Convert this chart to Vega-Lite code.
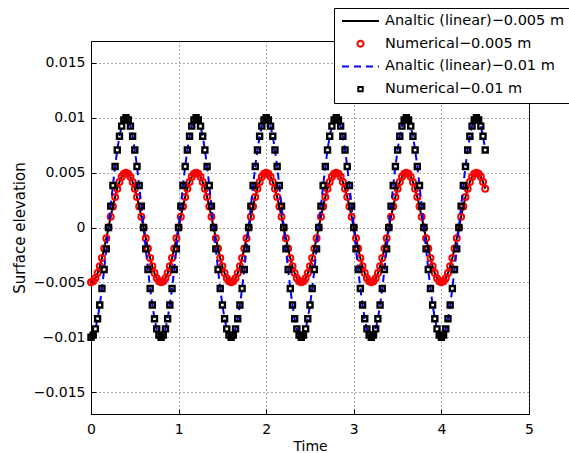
{
"$schema": "https://vega.github.io/schema/vega-lite/v6.json",
"width": 438, "height": 373,
"autosize": {"type": "none"},
"padding": {"left": 91, "top": 41, "right": 40, "bottom": 39},
"background": "white",
"config": {
  "font": "DejaVu Sans",
  "view": {"stroke": "black", "strokeWidth": 1},
  "axis": {"labelFont": "DejaVu Sans", "labelFontSize": 14, "labelColor": "black", "labelFlush": false, "titleFont": "DejaVu Sans", "titleFontSize": 14, "titleFontWeight": "normal", "titleColor": "black", "domainColor": "black", "tickColor": "black", "gridColor": "#555555", "gridDash": [1, 3], "gridOpacity": 1, "gridWidth": 1}
},
"data": {"values": [
{"t":0,"a":-0.005,"b":-0.01},{"t":0.025,"a":-0.004904,"b":-0.009808},{"t":0.05,"a":-0.004619,"b":-0.009239},{"t":0.075,"a":-0.004157,"b":-0.008315},{"t":0.1,"a":-0.003536,"b":-0.007071},{"t":0.125,"a":-0.002778,"b":-0.005556},{"t":0.15,"a":-0.001913,"b":-0.003827},{"t":0.175,"a":-0.000975,"b":-0.001951},{"t":0.2,"a":0,"b":0},{"t":0.225,"a":0.000975,"b":0.001951},{"t":0.25,"a":0.001913,"b":0.003827},{"t":0.275,"a":0.002778,"b":0.005556},{"t":0.3,"a":0.003536,"b":0.007071},{"t":0.325,"a":0.004157,"b":0.008315},{"t":0.35,"a":0.004619,"b":0.009239},{"t":0.375,"a":0.004904,"b":0.009808},{"t":0.4,"a":0.005,"b":0.01},{"t":0.425,"a":0.004904,"b":0.009808},{"t":0.45,"a":0.004619,"b":0.009239},{"t":0.475,"a":0.004157,"b":0.008315},{"t":0.5,"a":0.003536,"b":0.007071},{"t":0.525,"a":0.002778,"b":0.005556},{"t":0.55,"a":0.001913,"b":0.003827},{"t":0.575,"a":0.000975,"b":0.001951},{"t":0.6,"a":0,"b":0},{"t":0.625,"a":-0.000975,"b":-0.001951},{"t":0.65,"a":-0.001913,"b":-0.003827},{"t":0.675,"a":-0.002778,"b":-0.005556},{"t":0.7,"a":-0.003536,"b":-0.007071},{"t":0.725,"a":-0.004157,"b":-0.008315},{"t":0.75,"a":-0.004619,"b":-0.009239},{"t":0.775,"a":-0.004904,"b":-0.009808},
{"t":0.8,"a":-0.005,"b":-0.01},{"t":0.825,"a":-0.004904,"b":-0.009808},{"t":0.85,"a":-0.004619,"b":-0.009239},{"t":0.875,"a":-0.004157,"b":-0.008315},{"t":0.9,"a":-0.003536,"b":-0.007071},{"t":0.925,"a":-0.002778,"b":-0.005556},{"t":0.95,"a":-0.001913,"b":-0.003827},{"t":0.975,"a":-0.000975,"b":-0.001951},{"t":1,"a":0,"b":0},{"t":1.025,"a":0.000975,"b":0.001951},{"t":1.05,"a":0.001913,"b":0.003827},{"t":1.075,"a":0.002778,"b":0.005556},{"t":1.1,"a":0.003536,"b":0.007071},{"t":1.125,"a":0.004157,"b":0.008315},{"t":1.15,"a":0.004619,"b":0.009239},{"t":1.175,"a":0.004904,"b":0.009808},{"t":1.2,"a":0.005,"b":0.01},{"t":1.225,"a":0.004904,"b":0.009808},{"t":1.25,"a":0.004619,"b":0.009239},{"t":1.275,"a":0.004157,"b":0.008315},{"t":1.3,"a":0.003536,"b":0.007071},{"t":1.325,"a":0.002778,"b":0.005556},{"t":1.35,"a":0.001913,"b":0.003827},{"t":1.375,"a":0.000975,"b":0.001951},{"t":1.4,"a":0,"b":0},{"t":1.425,"a":-0.000975,"b":-0.001951},{"t":1.45,"a":-0.001913,"b":-0.003827},{"t":1.475,"a":-0.002778,"b":-0.005556},{"t":1.5,"a":-0.003536,"b":-0.007071},{"t":1.525,"a":-0.004157,"b":-0.008315},{"t":1.55,"a":-0.004619,"b":-0.009239},{"t":1.575,"a":-0.004904,"b":-0.009808},
{"t":1.6,"a":-0.005,"b":-0.01},{"t":1.625,"a":-0.004904,"b":-0.009808},{"t":1.65,"a":-0.004619,"b":-0.009239},{"t":1.675,"a":-0.004157,"b":-0.008315},{"t":1.7,"a":-0.003536,"b":-0.007071},{"t":1.725,"a":-0.002778,"b":-0.005556},{"t":1.75,"a":-0.001913,"b":-0.003827},{"t":1.775,"a":-0.000975,"b":-0.001951},{"t":1.8,"a":0,"b":0},{"t":1.825,"a":0.000975,"b":0.001951},{"t":1.85,"a":0.001913,"b":0.003827},{"t":1.875,"a":0.002778,"b":0.005556},{"t":1.9,"a":0.003536,"b":0.007071},{"t":1.925,"a":0.004157,"b":0.008315},{"t":1.95,"a":0.004619,"b":0.009239},{"t":1.975,"a":0.004904,"b":0.009808},{"t":2,"a":0.005,"b":0.01},{"t":2.025,"a":0.004904,"b":0.009808},{"t":2.05,"a":0.004619,"b":0.009239},{"t":2.075,"a":0.004157,"b":0.008315},{"t":2.1,"a":0.003536,"b":0.007071},{"t":2.125,"a":0.002778,"b":0.005556},{"t":2.15,"a":0.001913,"b":0.003827},{"t":2.175,"a":0.000975,"b":0.001951},{"t":2.2,"a":0,"b":0},{"t":2.225,"a":-0.000975,"b":-0.001951},{"t":2.25,"a":-0.001913,"b":-0.003827},{"t":2.275,"a":-0.002778,"b":-0.005556},{"t":2.3,"a":-0.003536,"b":-0.007071},{"t":2.325,"a":-0.004157,"b":-0.008315},{"t":2.35,"a":-0.004619,"b":-0.009239},{"t":2.375,"a":-0.004904,"b":-0.009808},
{"t":2.4,"a":-0.005,"b":-0.01},{"t":2.425,"a":-0.004904,"b":-0.009808},{"t":2.45,"a":-0.004619,"b":-0.009239},{"t":2.475,"a":-0.004157,"b":-0.008315},{"t":2.5,"a":-0.003536,"b":-0.007071},{"t":2.525,"a":-0.002778,"b":-0.005556},{"t":2.55,"a":-0.001913,"b":-0.003827},{"t":2.575,"a":-0.000975,"b":-0.001951},{"t":2.6,"a":0,"b":0},{"t":2.625,"a":0.000975,"b":0.001951},{"t":2.65,"a":0.001913,"b":0.003827},{"t":2.675,"a":0.002778,"b":0.005556},{"t":2.7,"a":0.003536,"b":0.007071},{"t":2.725,"a":0.004157,"b":0.008315},{"t":2.75,"a":0.004619,"b":0.009239},{"t":2.775,"a":0.004904,"b":0.009808},{"t":2.8,"a":0.005,"b":0.01},{"t":2.825,"a":0.004904,"b":0.009808},{"t":2.85,"a":0.004619,"b":0.009239},{"t":2.875,"a":0.004157,"b":0.008315},{"t":2.9,"a":0.003536,"b":0.007071},{"t":2.925,"a":0.002778,"b":0.005556},{"t":2.95,"a":0.001913,"b":0.003827},{"t":2.975,"a":0.000975,"b":0.001951},{"t":3,"a":0,"b":0},{"t":3.025,"a":-0.000975,"b":-0.001951},{"t":3.05,"a":-0.001913,"b":-0.003827},{"t":3.075,"a":-0.002778,"b":-0.005556},{"t":3.1,"a":-0.003536,"b":-0.007071},{"t":3.125,"a":-0.004157,"b":-0.008315},{"t":3.15,"a":-0.004619,"b":-0.009239},{"t":3.175,"a":-0.004904,"b":-0.009808},
{"t":3.2,"a":-0.005,"b":-0.01},{"t":3.225,"a":-0.004904,"b":-0.009808},{"t":3.25,"a":-0.004619,"b":-0.009239},{"t":3.275,"a":-0.004157,"b":-0.008315},{"t":3.3,"a":-0.003536,"b":-0.007071},{"t":3.325,"a":-0.002778,"b":-0.005556},{"t":3.35,"a":-0.001913,"b":-0.003827},{"t":3.375,"a":-0.000975,"b":-0.001951},{"t":3.4,"a":0,"b":0},{"t":3.425,"a":0.000975,"b":0.001951},{"t":3.45,"a":0.001913,"b":0.003827},{"t":3.475,"a":0.002778,"b":0.005556},{"t":3.5,"a":0.003536,"b":0.007071},{"t":3.525,"a":0.004157,"b":0.008315},{"t":3.55,"a":0.004619,"b":0.009239},{"t":3.575,"a":0.004904,"b":0.009808},{"t":3.6,"a":0.005,"b":0.01},{"t":3.625,"a":0.004904,"b":0.009808},{"t":3.65,"a":0.004619,"b":0.009239},{"t":3.675,"a":0.004157,"b":0.008315},{"t":3.7,"a":0.003536,"b":0.007071},{"t":3.725,"a":0.002778,"b":0.005556},{"t":3.75,"a":0.001913,"b":0.003827},{"t":3.775,"a":0.000975,"b":0.001951},{"t":3.8,"a":0,"b":0},{"t":3.825,"a":-0.000975,"b":-0.001951},{"t":3.85,"a":-0.001913,"b":-0.003827},{"t":3.875,"a":-0.002778,"b":-0.005556},{"t":3.9,"a":-0.003536,"b":-0.007071},{"t":3.925,"a":-0.004157,"b":-0.008315},{"t":3.95,"a":-0.004619,"b":-0.009239},{"t":3.975,"a":-0.004904,"b":-0.009808},
{"t":4,"a":-0.005,"b":-0.01},{"t":4.025,"a":-0.004904,"b":-0.009808},{"t":4.05,"a":-0.004619,"b":-0.009239},{"t":4.075,"a":-0.004157,"b":-0.008315},{"t":4.1,"a":-0.003536,"b":-0.007071},{"t":4.125,"a":-0.002778,"b":-0.005556},{"t":4.15,"a":-0.001913,"b":-0.003827},{"t":4.175,"a":-0.000975,"b":-0.001951},{"t":4.2,"a":0,"b":0},{"t":4.225,"a":0.000975,"b":0.001951},{"t":4.25,"a":0.001913,"b":0.003827},{"t":4.275,"a":0.002778,"b":0.005556},{"t":4.3,"a":0.003536,"b":0.007071},{"t":4.325,"a":0.004157,"b":0.008315},{"t":4.35,"a":0.004619,"b":0.009239},{"t":4.375,"a":0.004904,"b":0.009808},{"t":4.4,"a":0.005,"b":0.01},{"t":4.425,"a":0.004904,"b":0.009808},{"t":4.45,"a":0.004619,"b":0.009239},{"t":4.475,"a":0.004157,"b":0.008315},{"t":4.5,"a":0.003536,"b":0.007071}
]},
"layer": [
  {
    "mark": {"type": "line", "strokeWidth": 2},
    "encoding": {
      "x": {"field": "t", "type": "quantitative", "scale": {"domain": [0, 5], "nice": false},
        "axis": {"orient": "bottom", "values": [0, 1, 2, 3, 4, 5], "format": "d", "title": "Time", "grid": true, "tickSize": -5, "labelPadding": 13, "titlePadding": 3}},
      "y": {"field": "a", "type": "quantitative", "scale": {"domain": [-0.017, 0.017], "nice": false},
        "axis": {"orient": "left", "values": [-0.015, -0.01, -0.005, 0, 0.005, 0.01, 0.015], "format": ".3~f", "title": "Surface elevation", "titleFontSize": 15, "grid": true, "tickSize": -5, "labelPadding": 11, "titlePadding": 6}},
      "color": {"datum": "Analtic (linear)−0.005 m",
        "scale": {"domain": ["Analtic (linear)−0.005 m", "Numerical−0.005 m", "Analtic (linear)−0.01 m", "Numerical−0.01 m"], "range": ["black", "red", "blue", "black"]},
        "legend": {
          "title": null, "orient": "none", "legendX": 243, "legendY": -33,
          "padding": 4, "strokeColor": "black", "fillColor": "white",
          "labelFont": "DejaVu Sans", "labelFontSize": 14.5, "labelColor": "black", "labelOffset": 5, "labelLimit": 400,
          "symbolType": "M-1,0H1", "symbolSize": 1369, "symbolStrokeWidth": 2, "symbolOffset": 3,
          "clipHeight": 18, "rowPadding": 4.7,
          "encode": {"symbols": {"update": {
            "shape": {"signal": "indexof(datum.value,'Numerical')===0 ? (indexof(datum.value,'0.005')>0 ? 'M-0.162,0A0.162,0.162,0,1,1,0.162,0A0.162,0.162,0,1,1,-0.162,0Z' : 'M-0.12,-0.12H0.12V0.12H-0.12Z') : 'M-1,0H1'"},
            "strokeDash": {"signal": "(indexof(datum.value,'Analtic')===0 && indexof(datum.value,'0.01 m')>0) ? [7,5] : [1,0]"}
          }}}
        }}
    }
  },
  {
    "mark": {"type": "point", "shape": "circle", "filled": false, "strokeWidth": 2, "size": 36, "opacity": 1},
    "encoding": {
      "x": {"field": "t", "type": "quantitative"},
      "y": {"field": "a", "type": "quantitative"},
      "color": {"datum": "Numerical−0.005 m"}
    }
  },
  {
    "mark": {"type": "line", "strokeWidth": 2, "strokeDash": [7, 5]},
    "encoding": {
      "x": {"field": "t", "type": "quantitative"},
      "y": {"field": "b", "type": "quantitative"},
      "color": {"datum": "Analtic (linear)−0.01 m"}
    }
  },
  {
    "mark": {"type": "point", "shape": "square", "filled": false, "strokeWidth": 2.4, "size": 25, "opacity": 1},
    "encoding": {
      "x": {"field": "t", "type": "quantitative"},
      "y": {"field": "b", "type": "quantitative"},
      "color": {"datum": "Numerical−0.01 m"}
    }
  }
]
}
